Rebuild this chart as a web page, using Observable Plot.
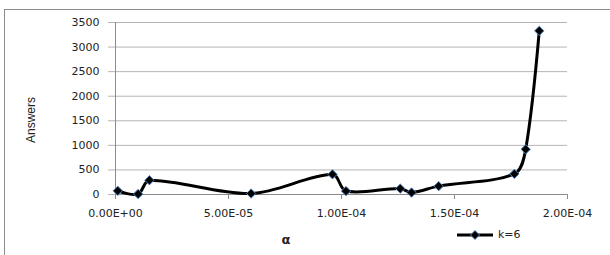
<!DOCTYPE html>
<html>
<head>
<meta charset="utf-8">
<script src="https://cdn.jsdelivr.net/npm/d3@7"></script>
<script src="https://cdn.jsdelivr.net/npm/@observablehq/plot@0.6"></script>
<style>
  html, body { margin: 0; padding: 0; background: #fff; overflow: hidden; }
  #wrap { position: relative; width: 610px; height: 255px; overflow: hidden; }
  #frame { position: absolute; left: 4px; top: 9px; width: 700px; height: 300px; border: 1px solid #8c8c8c; box-sizing: border-box; }
  #chart { position: absolute; left: 0; top: 0; }
  .lbl { position: absolute; color: #222; white-space: nowrap; }
  #ylab { left: 31px; top: 120px; font: 12px "Liberation Sans", Arial, sans-serif; transform: translate(-50%, -50%) rotate(-90deg); }
  #xlab { left: 286px; top: 239px; font: bold 13px "DejaVu Sans", sans-serif; transform: translate(-50%, -50%); }
  #legend { position: absolute; left: 456px; top: 228px; display: flex; align-items: center; font: 11px "DejaVu Sans", sans-serif; color: #222; }
</style>
</head>
<body>
<div id="wrap">
  <div id="frame"></div>
  <div id="chart"></div>
  <div class="lbl" id="ylab">Answers</div>
  <div class="lbl" id="xlab">α</div>
  <div id="legend"></div>
</div>
<script>
// Data
const alphaValues = [1.0e-6, 1.0e-5, 1.5e-5, 6.0e-5, 9.6e-5, 1.02e-4, 1.26e-4, 1.31e-4, 1.43e-4, 1.765e-4, 1.815e-4, 1.875e-4];
const answers     = [75, 10, 290, 20, 410, 70, 120, 40, 170, 420, 920, 3330];
const seriesName  = "k=6";
const xTicks      = [0, 5e-5, 1e-4, 1.5e-4, 2e-4];
const xTickLabels = ["0.00E+00", "5.00E-05", "1.00E-04", "1.50E-04", "2.00E-04"];
const yTicks      = [0, 500, 1000, 1500, 2000, 2500, 3000, 3500];

const data = alphaValues.map((a, i) => ({alpha: a, answers: answers[i]}));

// Spreadsheet-style smoothed line: Bezier with tangents scaled by segment lengths
function smoothCurve(context) {
  let pts = [];
  const T = 0.33;
  return {
    areaStart() {}, areaEnd() {},
    lineStart() { pts = []; },
    point(x, y) { pts.push([+x, +y]); },
    lineEnd() {
      const n = pts.length;
      if (!n) return;
      context.moveTo(pts[0][0], pts[0][1]);
      if (n === 1) return;
      const cin = [], cout = [];
      for (let i = 0; i < n; i++) {
        const p = pts[i];
        if (i === 0 || i === n - 1) { cin[i] = p; cout[i] = p; continue; }
        const a = pts[i - 1], b = pts[i + 1];
        const d0 = Math.hypot(p[0] - a[0], p[1] - a[1]);
        const d1 = Math.hypot(b[0] - p[0], b[1] - p[1]);
        const vx = b[0] - a[0], vy = b[1] - a[1];
        const s = d0 + d1 || 1;
        const fa = T * d0 / s, fb = T * d1 / s;
        cin[i] = [p[0] - vx * fa, p[1] - vy * fa];
        cout[i] = [p[0] + vx * fb, p[1] + vy * fb];
      }
      for (let i = 0; i < n - 1; i++) {
        context.bezierCurveTo(cout[i][0], cout[i][1], cin[i + 1][0], cin[i + 1][1], pts[i + 1][0], pts[i + 1][1]);
      }
    }
  };
}

const plot = Plot.plot({
  width: 610,
  height: 255,
  marginLeft: 115,
  marginRight: 43,
  marginTop: 22,
  marginBottom: 61,
  style: {fontFamily: "'DejaVu Sans', sans-serif", fontSize: "11px", color: "#222", background: "transparent"},
  x: {domain: [0, 2e-4]},
  y: {domain: [0, 3500]},
  marks: [
    Plot.gridY(yTicks, {stroke: "#b4b4b4", strokeOpacity: 1}),
    Plot.axisY(yTicks, {tickSize: 7, tickPadding: 9, stroke: "#b4b4b4", label: null, tickFormat: d => String(d)}),
    Plot.ruleX([0], {stroke: "#8c8c8c"}),
    Plot.ruleY([0], {stroke: "#8c8c8c"}),
    Plot.axisX(xTicks, {tickSize: 5, tickPadding: 10, stroke: "#8c8c8c", label: null,
      tickFormat: d => xTickLabels[xTicks.indexOf(d)]}),
    Plot.line(data, {x: "alpha", y: "answers", stroke: "#000", strokeWidth: 3, curve: smoothCurve}),
    Plot.dot(data, {x: "alpha", y: "answers", symbol: "diamond2", r: 4.2, fill: "#000", stroke: "#4f81bd", strokeWidth: 1})
  ]
});
document.getElementById("chart").appendChild(plot);

// legend
const lg = document.getElementById("legend");
lg.innerHTML = `<svg width="40" height="12"><line x1="1" y1="6" x2="37" y2="6" stroke="#000" stroke-width="3"/><path d="M19,1.5 L23.5,6 L19,10.5 L14.5,6 Z" fill="#000" stroke="#4f81bd" stroke-width="1"/></svg><span style="margin-left:2px">${seriesName}</span>`;
</script>
</body>
</html>
